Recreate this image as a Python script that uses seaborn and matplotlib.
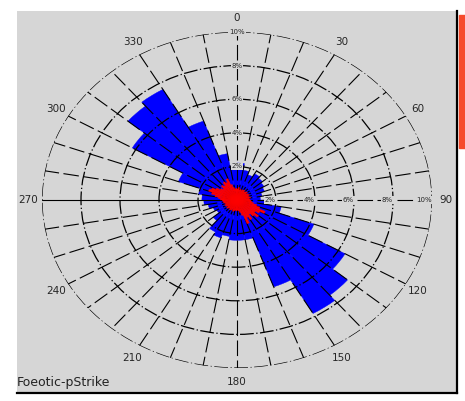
import numpy as np
import matplotlib
matplotlib.use("Agg")
import matplotlib.pyplot as plt
import seaborn as sns
from matplotlib.patches import Rectangle

sns.set_theme(style="white")
plt.rcParams['font.family'] = ['DejaVu Sans']

# rose data: percent of readings per direction bin (degrees from north, clockwise)
blue_bin = np.arange(0, 360, 10)
blue_pct = [2.2, 1.8, 1.6, 1.8, 1.7, 1.6, 1.5, 1.3, 1.2, 1.4,
            2.3, 4.2, 6.4, 7.4, 7.8, 5.5, 2.4, 2.4, 2.4, 2.2,
            2.4, 2.2, 1.6, 1.2, 1.3, 1.5, 1.7, 1.8, 2.0, 3.2,
            6.2, 7.3, 7.6, 5.0, 2.8, 2.0]
red_bin = np.arange(0, 360, 5)
red_pct = [0.65, 0.75, 0.60, 0.65, 0.60, 0.65, 0.70, 0.60, 0.65, 0.70,
           0.60, 0.65, 0.70, 0.60, 0.65, 0.70, 0.60, 0.65, 0.70, 0.75,
           0.85, 1.05, 1.25, 1.60, 1.35, 1.15, 1.45, 1.25, 1.05, 1.35,
           1.15, 1.50, 0.95, 0.75, 0.65, 0.60, 0.65, 0.60, 0.65, 0.70,
           0.60, 0.65, 0.70, 0.60, 0.65, 0.70, 0.60, 0.65, 0.70, 0.60,
           0.65, 0.70, 0.70, 0.75, 0.85, 0.95, 1.15, 1.35, 1.55, 1.45,
           1.25, 1.05, 0.95, 1.15, 1.05, 1.25, 1.15, 1.35, 0.95, 0.75,
           0.65, 0.70]
ring_pct = [2, 4, 6, 8, 10]
spoke_deg = np.arange(0, 360, 10)
caption = "Foeotic-pStrike"

fig = plt.figure(figsize=(4.65, 4.01), dpi=100, facecolor='white')

# grey panel with the dark right/bottom edge
bg = fig.add_axes([17/465, 1 - 393/401, 440/465, 382/401])
bg.set_facecolor('#d6d6d6')
bg.set_xticks([])
bg.set_yticks([])
for side in ['top', 'left']:
    bg.spines[side].set_visible(False)
for side in ['right', 'bottom']:
    bg.spines[side].set_color('black')
    bg.spines[side].set_linewidth(1.6)
bg.text(0.0, 0.01, caption, transform=bg.transAxes, fontsize=9,
        ha='left', va='bottom', color='#222222')

fig.patches.append(Rectangle((459/465, 1 - 148/401), 6/465, 133/401,
                             transform=fig.transFigure, color='#f64a2c'))

ax = fig.add_axes([42/465, 33/401, 390/465, 336/401], projection='polar')
ax.set_aspect('auto')
ax.set_facecolor('none')
ax.set_theta_zero_location('N')
ax.set_theta_direction(-1)

ax.bar(np.deg2rad(blue_bin), blue_pct, width=np.deg2rad(10), align='edge',
       color='#0000ff', edgecolor='#0000ff', linewidth=0.3, zorder=1)
ax.bar(np.deg2rad(red_bin), red_pct, width=np.deg2rad(5), align='edge',
       color='#ff0000', edgecolor='#ff0000', linewidth=0.3, zorder=3)

ax.set_ylim(0, 10)
ax.set_thetagrids(spoke_deg, labels=[str(a) if a % 30 == 0 else '' for a in spoke_deg],
                  fontsize=7.5)
ax.set_rgrids(ring_pct, labels=['' for r in ring_pct])
ax.set_axisbelow(False)
ax.tick_params(axis='x', pad=-3)
ax.spines['polar'].set_visible(False)

for gl in ax.xaxis.get_gridlines():
    gl.set_color('black')
    gl.set_linewidth(0.8)
    gl.set_linestyle((0, (14, 4)))
ax.xaxis.get_gridlines()[27].set_linestyle('-')
for gl in ax.yaxis.get_gridlines():
    gl.set_color('black')
    gl.set_linewidth(0.9)
    gl.set_linestyle((0, (11, 2, 1, 2)))

for r in ring_pct:
    ax.text(0, r, f"{r}%", fontsize=5, ha='center', va='center', zorder=4,
            bbox=dict(facecolor='#d6d6d6', edgecolor='none', pad=0.5))
    ax.text(np.pi / 2, r, f"{r}%", fontsize=5, ha='right', va='center', zorder=4,
            bbox=dict(facecolor='#d6d6d6', edgecolor='none', pad=0.5))

plt.savefig('out.png', dpi=100, facecolor=fig.get_facecolor())
